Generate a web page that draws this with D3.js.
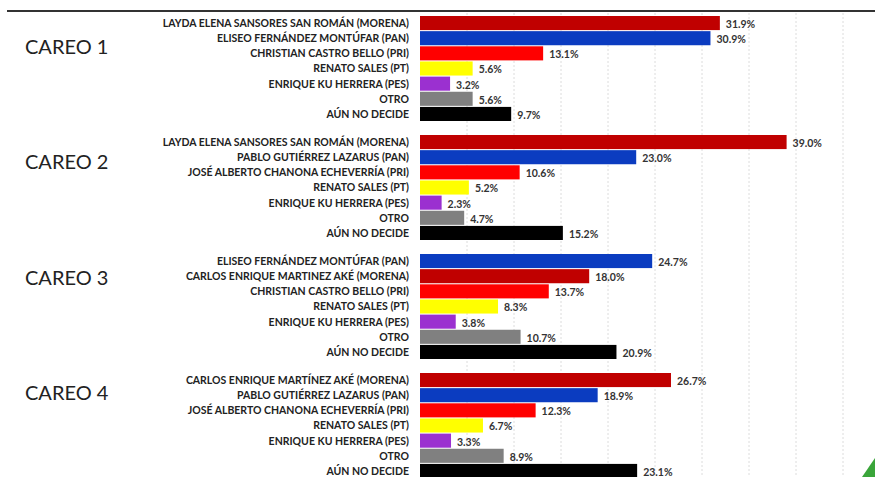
<!DOCTYPE html>
<html lang="es">
  <head>
    <meta charset="UTF-8">
    <script type="text/javascript" src="https://cdn.jsdelivr.net/npm/d3@7"></script>
    <title>Careos</title>
    <style>
      body { margin: 0; background: #fff; }
    </style>
  </head>
  <body>
    <script type="text/javascript">
      let w = 875;
      let h = 477;

      let careos = ['CAREO 1', 'CAREO 2', 'CAREO 3', 'CAREO 4'];

      let candidatos1 = ['LAYDA ELENA SANSORES SAN ROMÁN (MORENA)', 'ELISEO FERNÁNDEZ MONTÚFAR (PAN)',
        'CHRISTIAN CASTRO BELLO (PRI)', 'RENATO SALES (PT)', 'ENRIQUE KU HERRERA (PES)', 'OTRO', 'AÚN NO DECIDE'];
      let partidos1 = ['MORENA', 'PAN', 'PRI', 'PT', 'PES', 'OTRO', 'NS'];
      let valores1 = [31.9, 30.9, 13.1, 5.6, 3.2, 5.6, 9.7];

      let candidatos2 = ['LAYDA ELENA SANSORES SAN ROMÁN (MORENA)', 'PABLO GUTIÉRREZ LAZARUS (PAN)',
        'JOSÉ ALBERTO CHANONA ECHEVERRÍA (PRI)', 'RENATO SALES (PT)', 'ENRIQUE KU HERRERA (PES)', 'OTRO', 'AÚN NO DECIDE'];
      let partidos2 = ['MORENA', 'PAN', 'PRI', 'PT', 'PES', 'OTRO', 'NS'];
      let valores2 = [39.0, 23.0, 10.6, 5.2, 2.3, 4.7, 15.2];

      let candidatos3 = ['ELISEO FERNÁNDEZ MONTÚFAR (PAN)', 'CARLOS ENRIQUE MARTINEZ AKÉ (MORENA)',
        'CHRISTIAN CASTRO BELLO (PRI)', 'RENATO SALES (PT)', 'ENRIQUE KU HERRERA (PES)', 'OTRO', 'AÚN NO DECIDE'];
      let partidos3 = ['PAN', 'MORENA', 'PRI', 'PT', 'PES', 'OTRO', 'NS'];
      let valores3 = [24.7, 18.0, 13.7, 8.3, 3.8, 10.7, 20.9];

      let candidatos4 = ['CARLOS ENRIQUE MARTÍNEZ AKÉ (MORENA)', 'PABLO GUTIÉRREZ LAZARUS (PAN)',
        'JOSÉ ALBERTO CHANONA ECHEVERRÍA (PRI)', 'RENATO SALES (PT)', 'ENRIQUE KU HERRERA (PES)', 'OTRO', 'AÚN NO DECIDE'];
      let partidos4 = ['MORENA', 'PAN', 'PRI', 'PT', 'PES', 'OTRO', 'NS'];
      let valores4 = [26.7, 18.9, 12.3, 6.7, 3.3, 8.9, 23.1];

      let colores = {
        MORENA: '#c00000',
        PAN: '#0b3cc0',
        PRI: '#ff0000',
        PT: '#ffff00',
        PES: '#9b30d0',
        OTRO: '#808080',
        NS: '#000000'
      };

      let grupos = [
        [candidatos1, partidos1, valores1],
        [candidatos2, partidos2, valores2],
        [candidatos3, partidos3, valores3],
        [candidatos4, partidos4, valores4]
      ].map((g, i) => ({
        careo: careos[i],
        filas: g[2].map((v, j) => ({ nombre: g[0][j], partido: g[1][j], valor: v, idx: j }))
      }));

      let xScale = d3.scaleLinear().domain([0, 50]).range([420, 890]);
      let yGroup = d3.scaleBand().domain(careos).range([16, 16 + 4 * 119]);
      let yRow = d3.scaleBand().domain(d3.range(7)).range([0, 105]).paddingInner(0.07);
      // the "CAREO n" titles sit on their own, evenly spaced
      let yTitle = d3.scalePoint().domain(careos).range([47, 393]);

      let svg = d3.select('body')
                  .append('svg')
                  .attr('width', w)
                  .attr('height', h);

      // dashed vertical gridlines
      svg.selectAll('line.grid')
          .data(d3.range(5, 50, 5))
          .enter()
          .append('line')
          .attr('class', 'grid')
          .attr('x1', d => xScale(d))
          .attr('x2', d => xScale(d))
          .attr('y1', 13)
          .attr('y2', h)
          .attr('stroke', '#dcdcdc')
          .attr('stroke-width', 1)
          .attr('stroke-dasharray', '2,2');

      // top rule
      svg.append('line')
          .attr('x1', 7).attr('x2', w)
          .attr('y1', 11).attr('y2', 11)
          .attr('stroke', '#333')
          .attr('stroke-width', 2);

      svg.selectAll('text.titulo')
          .data(careos)
          .enter()
          .append('text')
          .attr('class', 'titulo')
          .text(d => d)
          .attr('x', 25)
          .attr('y', d => yTitle(d) + 7)
          .attr('font-family', 'Lato, "Open Sans", sans-serif')
          .attr('font-size', '20px')
          .attr('fill', '#222');

      let g = svg.selectAll('g.careo')
          .data(grupos)
          .enter()
          .append('g')
          .attr('class', 'careo')
          .attr('transform', d => `translate(0,${yGroup(d.careo)})`);

      let filas = g.selectAll('g.fila')
          .data(d => d.filas)
          .enter()
          .append('g')
          .attr('class', 'fila')
          .attr('transform', d => `translate(0,${yRow(d.idx)})`);

      filas.append('rect')
          .attr('x', xScale(0))
          .attr('y', 0)
          .attr('width', d => xScale(d.valor) - xScale(0))
          .attr('height', yRow.bandwidth())
          .attr('fill', d => colores[d.partido]);

      filas.append('text')
          .text(d => d.nombre)
          .attr('x', 409)
          .attr('y', yRow.bandwidth() / 2 + 4)
          .attr('text-anchor', 'end')
          .attr('font-family', 'Lato, sans-serif')
          .attr('font-weight', 'bold')
          .attr('font-size', '10.5px')
          .attr('fill', '#222');

      filas.append('text')
          .text(d => d3.format('.1f')(d.valor) + '%')
          .attr('x', d => xScale(d.valor) + 6)
          .attr('y', yRow.bandwidth() / 2 + 5)
          .attr('font-family', 'Lato, sans-serif')
          .attr('font-weight', 'bold')
          .attr('font-size', '10.5px')
          .attr('fill', '#333');

      // green corner mark
      svg.append('path')
          .attr('d', 'M862,477 L875,458 L875,477 Z')
          .attr('fill', '#3aa53a');
    </script>
  </body>
</html>
